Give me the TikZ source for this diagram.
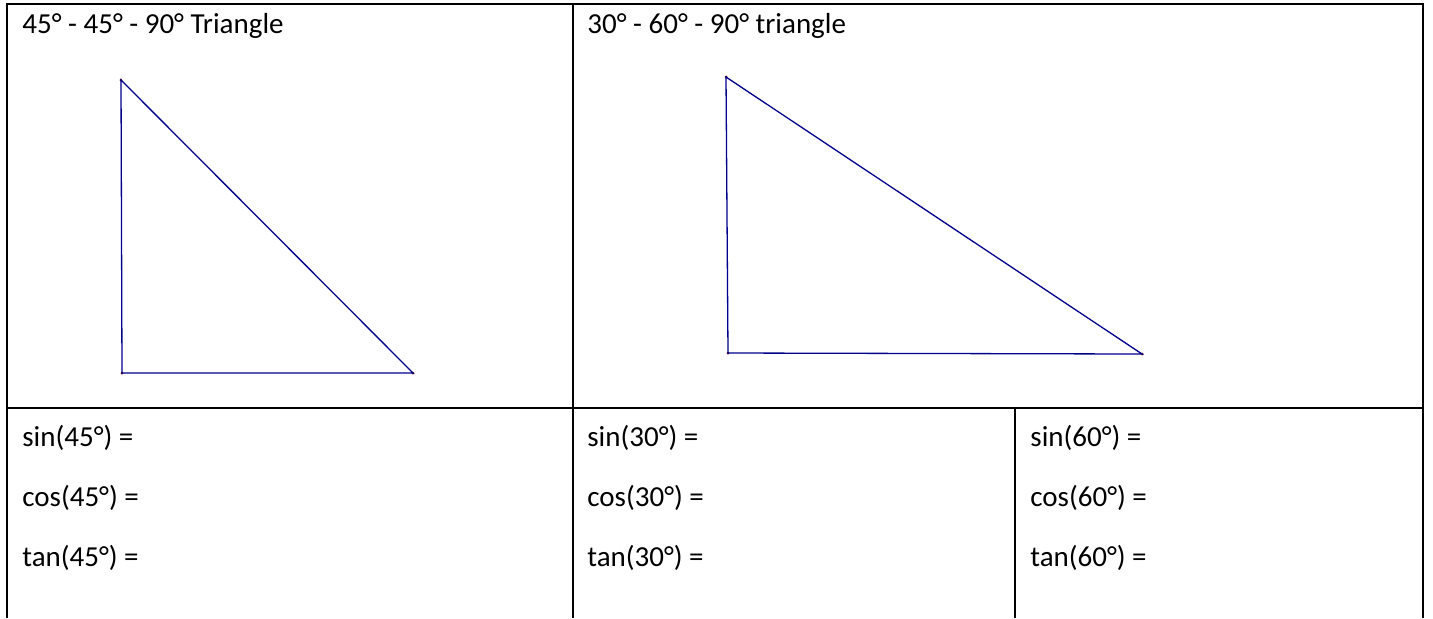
\documentclass[tikz,border=0pt]{standalone}
\usepackage{fontspec}
\setmainfont{Carlito}
\usetikzlibrary{positioning}

\begin{document}
\begin{tikzpicture}[x=0.5pt, y=-0.5pt,
  grid/.style={draw=black, line width=1.1pt},
  side/.style={draw=blue!55!black, line width=0.65pt},
  label/.style={anchor=base west, inner sep=0pt, font=\fontsize{14.5pt}{17pt}\selectfont},
  vertex/.style={circle, fill=red!40!black, inner sep=0pt, minimum size=1.5pt}]
  \useasboundingbox (0,0) rectangle (1433,618);
  % table lines
  \draw[grid] (7,618) -- (7,4) -- (1423,4) -- (1423,618);
  \draw[grid] (7,408) -- (1423,408);
  \draw[grid] (573,4) -- (573,618);
  \draw[grid] (1015,408) -- (1015,618);
  % headings
  \node[label] (h45) at (22,33) {45° - 45° - 90° Triangle};
  \node[label] (h30) at (587,33) {30° - 60° - 90° triangle};
  % 45-45-90 triangle
  \node[vertex] (a1) at (121,80) {};
  \node[vertex] (b1) at (122,373) {};
  \node[vertex] (c1) at (413,373) {};
  \draw[side] (a1.center) -- (b1.center) -- (c1.center) -- cycle;
  % 30-60-90 triangle
  \node[vertex] (a2) at (726,77) {};
  \node[vertex] (b2) at (728,353) {};
  \node[vertex] (c2) at (1142,354) {};
  \draw[side] (a2.center) -- (b2.center) -- (c2.center) -- cycle;
  % ratios
  \node[label] (s45) at (22,446) {sin(45°) =};
  \node[label] (c45) at (22,506) {cos(45°) =};
  \node[label] (t45) at (22,566) {tan(45°) =};
  \node[label] (s30) at (587,446) {sin(30°) =};
  \node[label] (c30) at (587,506) {cos(30°) =};
  \node[label] (t30) at (587,566) {tan(30°) =};
  \node[label] (s60) at (1030,446) {sin(60°) =};
  \node[label] (c60) at (1030,506) {cos(60°) =};
  \node[label] (t60) at (1030,566) {tan(60°) =};
\end{tikzpicture}
\end{document}
